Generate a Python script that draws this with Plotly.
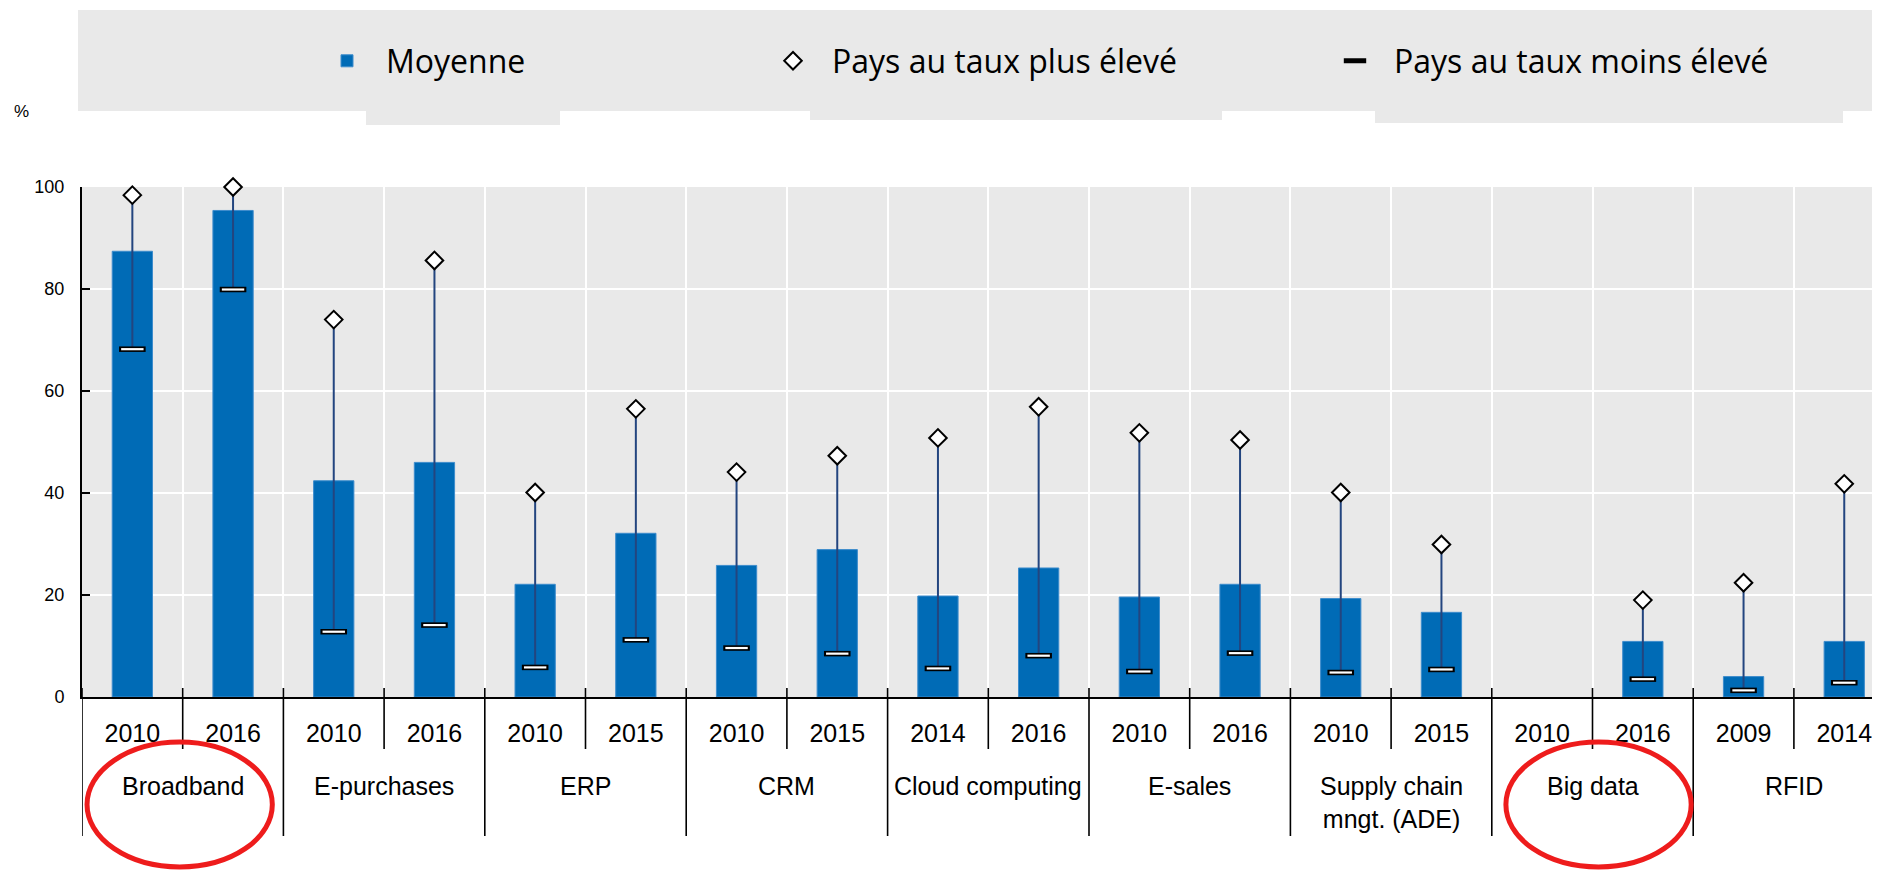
import plotly.graph_objects as go

# ---------------- data ----------------
groups = ["Broadband", "E-purchases", "ERP", "CRM", "Cloud computing",
          "E-sales", "Supply chain<br>mngt. (ADE)", "Big data", "RFID"]
years = ["2010", "2016", "2010", "2016", "2010", "2015", "2010", "2015",
         "2014", "2016", "2010", "2016", "2010", "2015", "2010", "2016",
         "2009", "2014"]
moyenne = [87.4, 95.4, 42.4, 46.0, 22.1, 32.1, 25.8, 28.9, 19.8, 25.3,
           19.6, 22.1, 19.3, 16.6, None, 10.9, 4.0, 10.9]
taux_max = [98.4, 100.0, 74.0, 85.6, 40.1, 56.5, 44.1, 47.3, 50.8, 56.9,
            51.8, 50.4, 40.1, 29.9, None, 19.0, 22.4, 41.8]
taux_min = [68.2, 79.9, 12.8, 14.1, 5.8, 11.2, 9.6, 8.5, 5.6, 8.1,
            5.0, 8.6, 4.8, 5.4, None, 3.5, 1.3, 2.8]
circled = ["Broadband", "Big data"]

# ---------------- geometry helpers ----------------
# target positions are given in screen pixels; the page body has an 8px margin
OFF = 8
W, H = 1880, 870
L, R, T, B = 74, 0, 179, 181
PW, PH = W - L - R, H - T - B
CAT_PX = 100.7


def sx(x):
    return (x - OFF - L) / PW


def sy(y):
    return (H - B - (y - OFF)) / PH


pos = list(range(len(years)))
NARROW = "Liberation Sans Narrow, Arial Narrow, Liberation Sans, Arial, sans-serif"
LEGFONT = "Open Sans, Noto Sans, sans-serif"
ITEMW = 68

fig = go.Figure()

fig.add_trace(go.Bar(
    x=pos, y=moyenne, width=0.4, name="Moyenne",
    marker=dict(color="#006BB6", line=dict(color="#3d8ccc", width=1)),
    legend="legend", showlegend=True, hoverinfo="y"))

# range lines
lx, ly = [], []
for i, (lo, hi) in enumerate(zip(taux_min, taux_max)):
    if lo is None or hi is None:
        continue
    lx += [i, i, None]
    ly += [lo, hi, None]
fig.add_trace(go.Scatter(x=lx, y=ly, mode="lines",
                         line=dict(color="#23457f", width=2),
                         showlegend=False, hoverinfo="skip", cliponaxis=False))

# minimum markers (outlined white bar)
fig.add_trace(go.Scatter(
    x=pos, y=taux_min, mode="markers", name="Pays au taux moins élevé",
    marker=dict(symbol="line-ew", size=19, line=dict(color="black", width=5.5)),
    legend="legend3", showlegend=True, cliponaxis=False))
fig.add_trace(go.Scatter(
    x=pos, y=taux_min, mode="markers", showlegend=False, hoverinfo="skip",
    marker=dict(symbol="line-ew", size=16, line=dict(color="white", width=2.2)),
    cliponaxis=False))

# maximum markers
fig.add_trace(go.Scatter(
    x=pos, y=taux_max, mode="markers", name="Pays au taux plus élevé",
    marker=dict(symbol="diamond", size=13.5, color="white",
                line=dict(color="black", width=2)),
    legend="legend2", showlegend=True, cliponaxis=False))

# ---------------- shapes ----------------
shapes = []
# legend background with tabs
shapes.append(dict(type="rect", xref="paper", yref="paper", layer="below",
                   x0=sx(78), x1=sx(1900), y0=sy(111), y1=sy(10),
                   fillcolor="#e9e9e9", line=dict(width=0)))
for (a, b, bot) in [(366, 560, 125), (810, 1222, 120), (1375, 1843, 123)]:
    shapes.append(dict(type="rect", xref="paper", yref="paper", layer="below",
                       x0=sx(a), x1=sx(b), y0=sy(bot), y1=sy(110),
                       fillcolor="#e9e9e9", line=dict(width=0)))

# category dividers below the axis
n = len(years)
for k in range(n + 1):
    xb = k - 0.5
    is_group = (k % 2 == 0)
    shapes.append(dict(type="line", xref="x", yref="paper",
                       x0=xb, x1=xb, y0=sy(688),
                       y1=sy(836) if is_group else sy(749),
                       line=dict(color="black", width=1.6)))

# red ellipses around highlighted groups (hand-drawn look: slight offsets)
ellipse_shift = {"Broadband": -0.03, "Big data": 0.06}
for g in circled:
    gi = groups.index(g)
    c = 2 * gi + 0.5 + ellipse_shift.get(g, 0)
    shapes.append(dict(type="circle", xref="x", yref="paper",
                       x0=c - 0.92, x1=c + 0.92, y0=sy(867), y1=sy(742),
                       line=dict(color="#ee1c1c", width=5)))

# ---------------- annotations ----------------
ann = []
for gi, g in enumerate(groups):
    ann.append(dict(x=2 * gi + 0.5, y=sy(770), xref="x", yref="paper",
                    text=g, showarrow=False, xanchor="center", yanchor="top",
                    font=dict(family=NARROW, size=25, color="black")))
ann.append(dict(x=sx(22), y=sy(111), xref="paper", yref="paper", text="%",
                showarrow=False, xanchor="center", yanchor="middle",
                font=dict(family=NARROW, size=17, color="black")))

leg_common = dict(orientation="h", bgcolor="rgba(0,0,0,0)", borderwidth=0,
                  font=dict(family=LEGFONT, size=32, color="black"),
                  yanchor="middle", xanchor="left", itemwidth=ITEMW)


def leg_x(text_start):
    return sx(text_start - (10 + ITEMW))


fig.update_layout(
    width=W, height=H,
    margin=dict(l=L, r=R, t=T, b=B, pad=0),
    paper_bgcolor="white", plot_bgcolor="#e9e9e9",
    shapes=shapes, annotations=ann,
    barmode="overlay",
    legend=dict(x=leg_x(386), y=sy(61), **leg_common),
    legend2=dict(x=leg_x(832), y=sy(61), **leg_common),
    legend3=dict(x=leg_x(1394), y=sy(61), **leg_common),
    xaxis=dict(
        range=[-0.5, PW / CAT_PX - 0.5],
        tickmode="array", tickvals=pos, ticktext=years,
        ticks="", showgrid=False, zeroline=False,
        showline=True, linecolor="black", linewidth=2,
        tickfont=dict(family=NARROW, size=25, color="black"),
        ticklabelstandoff=13,
        minor=dict(tickmode="array", tickvals=[k - 0.5 for k in range(n + 1)],
                   showgrid=True, gridcolor="white", gridwidth=2, ticks=""),
    ),
    yaxis=dict(
        range=[0, 100], tickvals=[0, 20, 40, 60, 80, 100],
        ticks="inside", ticklen=8, tickwidth=2, tickcolor="black",
        showgrid=True, gridcolor="white", gridwidth=2,
        zeroline=False, showline=True, linecolor="black", linewidth=2,
        tickfont=dict(family=NARROW, size=18, color="black"),
        ticklabelstandoff=12,
    ),
)

fig.write_html("out.html")
